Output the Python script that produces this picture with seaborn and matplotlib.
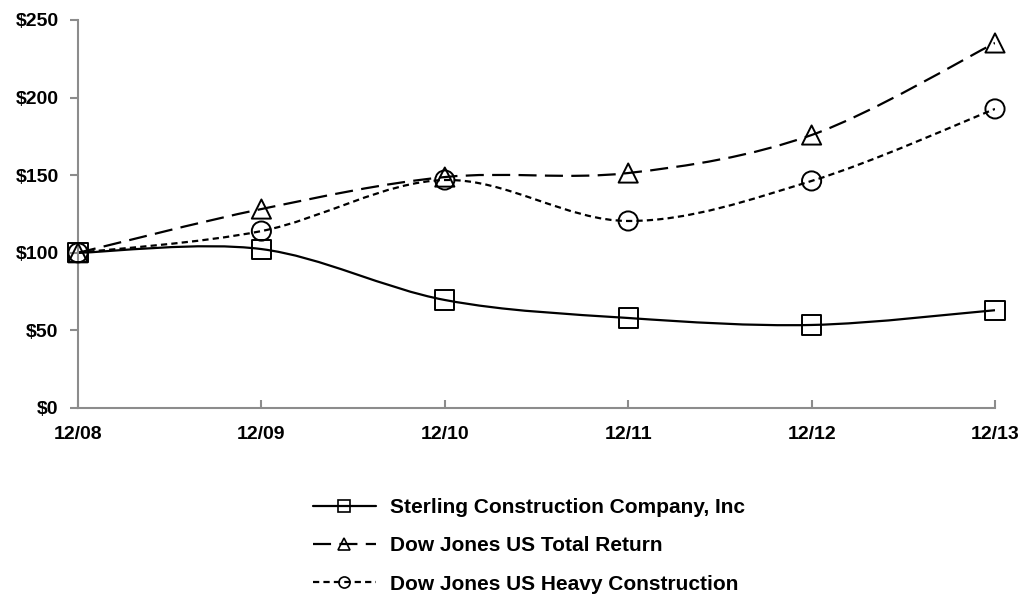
import numpy as np
import pandas as pd
import matplotlib
matplotlib.use("Agg")
import matplotlib.pyplot as plt
import seaborn as sns
from matplotlib.path import Path
from matplotlib.patches import PathPatch
from matplotlib.lines import Line2D

periods = ["12/08", "12/09", "12/10", "12/11", "12/12", "12/13"]
sterling = [100, 102.4, 69.6, 58.0, 53.5, 63.0]
dj_total = [100, 128.2, 148.8, 151.4, 175.9, 235.2]
dj_heavy = [100, 114.0, 146.9, 120.5, 146.3, 192.7]
series_names = ["Sterling Construction Company, Inc",
                "Dow Jones US Total Return",
                "Dow Jones US Heavy Construction"]
y_ticks = [0, 50, 100, 150, 200, 250]

sns.set_theme(style="white")
plt.rcParams["font.family"] = ["Liberation Sans", "DejaVu Sans"]
plt.rcParams["font.weight"] = "bold"
plt.rcParams["lines.scale_dashes"] = False
plt.rcParams["text.color"] = "black"
plt.rcParams["xtick.labelcolor"] = "black"
plt.rcParams["ytick.labelcolor"] = "black"

df = pd.DataFrame({
    "period": periods * 3,
    "x": list(range(len(periods))) * 3,
    "value": sterling + dj_total + dj_heavy,
    "series": sum([[n] * len(periods) for n in series_names], []),
})

fig = plt.figure(figsize=(10.24, 5.96), dpi=100)
ax = fig.add_axes([78 / 1024, 1 - 408 / 596, (995 - 78) / 1024, (408 - 20) / 596])

styles = {
    series_names[0]: dict(marker="s", dash=None),
    series_names[1]: dict(marker="^", dash=(0, (13, 6))),
    series_names[2]: dict(marker="o", dash=(0, (4.5, 3))),
}
lw = 1.6


def smooth_path(xs, ys):
    pts = np.column_stack([xs, ys]).astype(float)
    n = len(pts)
    verts = [pts[0]]
    codes = [Path.MOVETO]
    for i in range(n - 1):
        p0 = pts[i - 1] if i > 0 else pts[i]
        p1 = pts[i]
        p2 = pts[i + 1]
        p3 = pts[i + 2] if i + 2 < n else pts[i + 1]
        c1 = p1 + (p2 - p0) / 6.0
        c2 = p2 - (p3 - p1) / 6.0
        verts += [c1, c2, p2]
        codes += [Path.CURVE4] * 3
    return Path(np.array(verts), codes)


for name in series_names:
    sub = df[df["series"] == name]
    st = styles[name]
    path = smooth_path(sub["x"].values, sub["value"].values)
    patch = PathPatch(path, fill=False, edgecolor="black", lw=lw,
                      linestyle="-" if st["dash"] is None else st["dash"],
                      capstyle="butt", zorder=2)
    ax.add_patch(patch)

sns.scatterplot(data=df, x="x", y="value", style="series", markers={
    series_names[0]: "s", series_names[1]: "^", series_names[2]: "o"},
    s=190, facecolor="none", edgecolor="black", linewidth=1.4,
    ax=ax, legend=False, zorder=3)

ax.set_xlim(0, len(periods) - 1)
ax.set_ylim(0, 250)
ax.set_xticks(range(len(periods)))
ax.set_xticklabels(periods)
ax.set_yticks(y_ticks)
ax.set_yticklabels([f"${v}" for v in y_ticks])
ax.set_xlabel("")
ax.set_ylabel("")
for side in ["top", "right"]:
    ax.spines[side].set_visible(False)
for side in ["left", "bottom"]:
    ax.spines[side].set_color("#8c8c8c")
    ax.spines[side].set_linewidth(1.5)
ax.tick_params(axis="y", direction="out", length=6, width=1.5, color="#8c8c8c",
               labelsize=14, pad=8, labelcolor="black")
ax.tick_params(axis="x", direction="in", length=6, width=1.5, color="#8c8c8c",
               labelsize=14, pad=13, labelcolor="black")
ax.tick_params(left=True, bottom=True)
for lab in ax.get_xticklabels() + ax.get_yticklabels():
    lab.set_fontweight("bold")
ax.patch.set_alpha(0)
for coll in ax.collections:
    coll.set_clip_on(False)

handles = []
for name in series_names:
    st = styles[name]
    h = Line2D([], [], color="black", lw=lw,
               linestyle="-" if st["dash"] is None else st["dash"],
               marker=st["marker"], markersize=8, markerfacecolor="none",
               markeredgecolor="black", markeredgewidth=1.2)
    handles.append(h)
leg = fig.legend(handles, series_names, loc="upper left",
                 bbox_to_anchor=(313 / 1024, 1 - 498 / 596), frameon=False,
                 prop={"family": "Liberation Sans", "weight": "bold", "size": 15},
                 handlelength=3.0, handletextpad=0.7, labelspacing=0.93,
                 borderpad=0, borderaxespad=0)
for t in leg.get_texts():
    t.set_color("black")

fig.savefig("out.png", dpi=100)
